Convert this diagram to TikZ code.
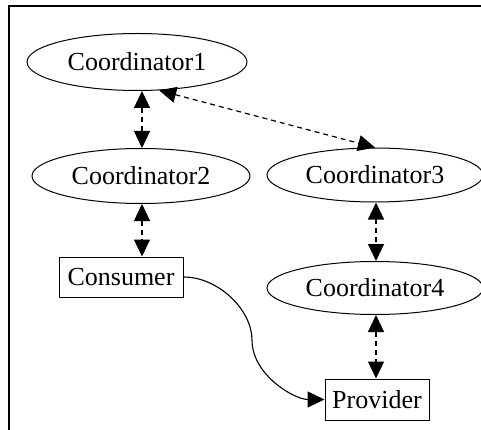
\documentclass[tikz,border=0pt]{standalone}
\usepackage{fontspec}
\setmainfont{Liberation Serif}
\usetikzlibrary{arrows.meta,shapes.geometric}

\tikzset{
  coord/.style={draw, ellipse, line width=1pt, inner sep=0pt,
    minimum width=218pt, minimum height=55pt,
    font=\fontsize{26}{26}\selectfont},
  party/.style={draw, rectangle, line width=1pt, inner sep=0pt,
    font=\fontsize{26}{26}\selectfont},
  tip/.tip={Triangle[length=17pt,width=16pt]},
  link/.style={line width=1.2pt, dash pattern=on 5pt off 4pt, tip-tip},
  call/.style={line width=1.1pt, -tip},
  frame/.style={line width=2pt}
}

\begin{document}
\begin{tikzpicture}[x=1pt, y=-1pt]
  \useasboundingbox (0,0) rectangle (481,430);
  \clip (0,0) rectangle (481,430);

  % window frame
  \coordinate (fbl) at (9,431);
  \coordinate (ftl) at (9,6);
  \coordinate (ftr) at (482,6);
  \draw[frame] (fbl) -- (ftl) -- (ftr);

  % coordinators
  \node[coord, minimum width=220pt, minimum height=57pt] (C1) at (137,62) {Coordinator1};
  \node[coord] (C2) at (141,176) {Coordinator2};
  \node[coord, minimum width=216pt, minimum height=54pt] (C3) at (375,175) {Coordinator3};
  \node[coord, minimum width=216pt, minimum height=53pt] (C4) at (375,288) {Coordinator4};

  % endpoints
  \node[party, minimum width=124pt, minimum height=40pt] (cons) at (121,277) {Consumer};
  \node[party, minimum width=104pt, minimum height=41pt] (prov) at (377,399.5) {Provider};

  % coordination links
  \draw[link] (C2.north -| 142,0) -- (C1.south -| 142,0);
  \draw[link] (C1.-52) -- (C3.north);
  \draw[link] (C2.south -| 142,0) -- (cons.north -| 142,0);
  \draw[link] (C3.south -| 376,0) -- (C4.north -| 376,0);
  \draw[link] (C4.south -| 376,0) -- (prov.north -| 376,0);

  % service call
  \coordinate (mid) at (252,340);
  \draw[call] (cons.east) .. controls +(35,0) and +(0,-30) .. (mid)
    .. controls +(0,35) and +(-30,0) .. (prov.west);
\end{tikzpicture}
\end{document}
